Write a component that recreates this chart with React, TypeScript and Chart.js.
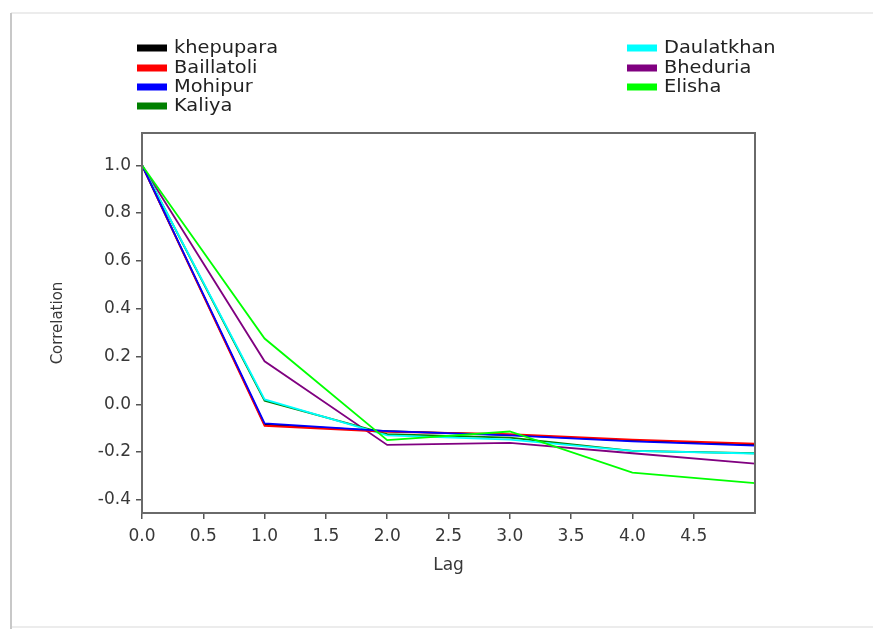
import React, { useEffect, useRef } from "react";
import { Chart, registerables } from "chart.js";

Chart.register(...registerables);

// ---- data ----
const lags = [0, 1, 2, 3, 4, 5];
const seriesNames = ["khepupara", "Baillatoli", "Mohipur", "Kaliya", "Daulatkhan", "Bheduria", "Elisha"];
const seriesColors = ["#000000", "#ff0000", "#0000ff", "#008000", "#00ffff", "#800080", "#00ff00"];
const khepupara = [1.0, -0.085, -0.112, -0.128, -0.152, -0.17];
const baillatoli = [1.0, -0.09, -0.115, -0.125, -0.148, -0.165];
const mohipur = [1.0, -0.08, -0.112, -0.13, -0.155, -0.173];
const kaliya = [1.0, 0.015, -0.125, -0.14, -0.195, -0.205];
const daulatkhan = [1.0, 0.02, -0.13, -0.148, -0.195, -0.206];
const bheduria = [1.0, 0.18, -0.17, -0.162, -0.205, -0.248];
const elisha = [1.0, 0.275, -0.15, -0.114, -0.286, -0.33];
const seriesValues = [khepupara, baillatoli, mohipur, kaliya, daulatkhan, bheduria, elisha];
const xTickValues = [0, 0.5, 1, 1.5, 2, 2.5, 3, 3.5, 4, 4.5];
const yTickValues = [-0.4, -0.2, 0, 0.2, 0.4, 0.6, 0.8, 1.0];
const xTitle = "Lag";
const yTitle = "Correlation";

const FONT = "'DejaVu Sans', sans-serif";
const TEXT = "#383838";

const frameAndLegend = {
  id: "frameAndLegend",
  beforeDraw(chart: any) {
    const ctx = chart.ctx;
    ctx.save();
    ctx.fillStyle = "#ffffff";
    ctx.fillRect(0, 0, chart.width, chart.height);
    // page frame
    ctx.strokeStyle = "#ececec";
    ctx.lineWidth = 2;
    ctx.beginPath();
    ctx.moveTo(11, 13);
    ctx.lineTo(chart.width, 13);
    ctx.stroke();
    ctx.beginPath();
    ctx.moveTo(11, chart.height - 2);
    ctx.lineTo(chart.width, chart.height - 2);
    ctx.stroke();
    ctx.strokeStyle = "#c8c8c8";
    ctx.beginPath();
    ctx.moveTo(11, 13);
    ctx.lineTo(11, chart.height);
    ctx.stroke();
    ctx.restore();
  },
  afterDraw(chart: any) {
    const ctx = chart.ctx;
    const a = chart.chartArea;
    ctx.save();
    // plot box
    ctx.strokeStyle = "#6a6a6a";
    ctx.lineWidth = 2;
    ctx.strokeRect(a.left, a.top, a.right - a.left, a.bottom - a.top);
    // legend
    const ds = chart.data.datasets;
    ctx.font = `17px ${FONT}`;
    ctx.textBaseline = "middle";
    ctx.textAlign = "left";
    const cols = [137, 627];
    const rowY = [48, 68, 87, 106];
    ds.forEach((d: any, i: number) => {
      const col = i < 4 ? 0 : 1;
      const row = i < 4 ? i : i - 4;
      const x = cols[col];
      const y = rowY[row];
      ctx.fillStyle = d.borderColor;
      ctx.fillRect(x, y - 3.5, 30, 7);
      ctx.fillStyle = "#222222";
      ctx.save();
      ctx.translate(x + 37, y + 1);
      ctx.scale(1.14, 1);
      ctx.fillText(d.label, 0, 0);
      ctx.restore();
    });
    ctx.restore();
  },
};

export default function App() {
  const ref = useRef<HTMLCanvasElement | null>(null);
  useEffect(() => {
    if (!ref.current) return;
    const datasets = seriesNames.map((name, i) => ({
      label: name,
      data: lags.map((l, j) => ({ x: l, y: seriesValues[i][j] })),
      borderColor: seriesColors[i],
      backgroundColor: seriesColors[i],
      borderWidth: 1.8,
      pointRadius: 0,
      tension: 0,
      fill: false,
      order: [3, 2, 1, 5, 4, 6, 0][i],
    }));
    const chart = new Chart(ref.current, {
      type: "line",
      data: { datasets },
      plugins: [frameAndLegend],
      options: {
        responsive: false,
        animation: false,
        layout: { padding: { top: 133, right: 118, left: 0, bottom: 0 } },
        plugins: { legend: { display: false }, tooltip: { enabled: false } },
        scales: {
          x: {
            type: "linear",
            min: 0,
            max: 5,
            afterBuildTicks: (s: any) => {
              s.ticks = xTickValues.map((v) => ({ value: v }));
            },
            afterFit: (s: any) => {
              s.height = 116;
            },
            ticks: {
              callback: (v: any) => Number(v).toFixed(1),
              color: TEXT,
              font: { family: FONT, size: 17 },
              padding: 7,
              maxRotation: 0,
              autoSkip: false,
            },
            grid: { drawOnChartArea: false, drawTicks: true, tickLength: 6, color: "#555555", lineWidth: 1.5 },
            border: { display: true, color: "#6a6a6a", width: 2 },
            title: {
              display: true,
              text: xTitle,
              color: TEXT,
              font: { family: FONT, size: 17 },
              padding: { top: 0, bottom: 53 },
            },
          },
          y: {
            type: "linear",
            min: -0.455,
            max: 1.135,
            afterBuildTicks: (s: any) => {
              s.ticks = yTickValues.map((v) => ({ value: v }));
            },
            afterFit: (s: any) => {
              s.width = 142;
            },
            ticks: {
              callback: (v: any) => Number(v).toFixed(1),
              color: TEXT,
              font: { family: FONT, size: 17 },
              padding: 5,
              autoSkip: false,
            },
            grid: { drawOnChartArea: false, drawTicks: true, tickLength: 6, color: "#555555", lineWidth: 1.5 },
            border: { display: true, color: "#6a6a6a", width: 2 },
            title: {
              display: true,
              text: yTitle,
              color: TEXT,
              font: { family: FONT, size: 15 },
              padding: { top: 49, bottom: 0 },
            },
          },
        },
      },
    });
    return () => chart.destroy();
  }, []);
  return (
    <div style={{ position: "absolute", left: 0, top: 0, width: 873, height: 629 }}>
      <canvas ref={ref} width={873} height={629} style={{ display: "block" }} />
    </div>
  );
}
